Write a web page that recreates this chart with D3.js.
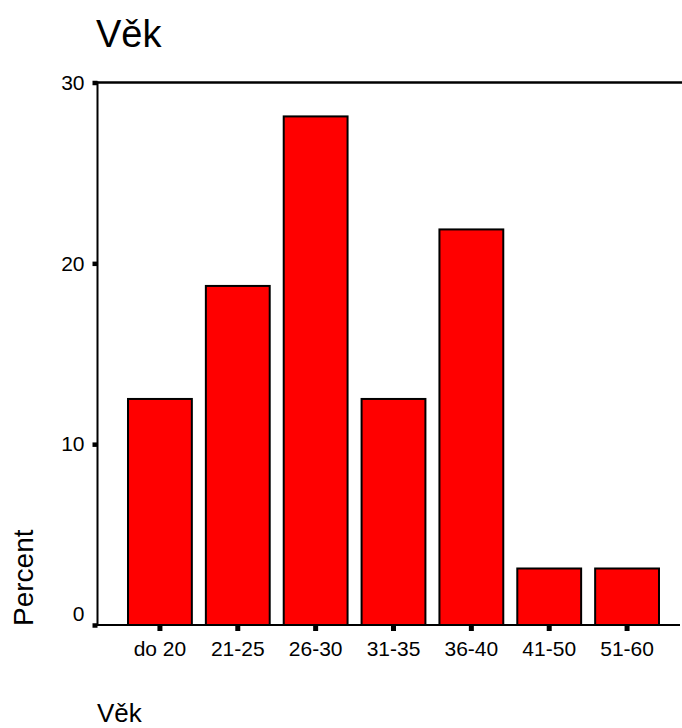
<!DOCTYPE html>
<html><head><meta charset="utf-8">
<script src="https://cdn.jsdelivr.net/npm/d3@7"></script>
<style>body{margin:0;background:#fff}svg{display:block}</style>
</head><body>
<script>
const categories = ["do 20","21-25","26-30","31-35","36-40","41-50","51-60"];
const values = [12.5, 18.75, 28.125, 12.5, 21.875, 3.125, 3.125];
const yTicks = [0, 10, 20, 30];
const title = "Věk";
const xTitle = "Věk";
const yTitle = "Percent";

const W = 682, H = 728;
const svg = d3.select("body").append("svg").attr("width", W).attr("height", H);
const font = "Arial, 'Liberation Sans', sans-serif";

const x = d3.scaleBand().domain(categories).range([121, 666]).paddingInner(0.18).paddingOuter(0.09);
const y = d3.scaleLinear().domain([0, 30]).range([625, 82.5]);

// top frame line
svg.append("line").attr("x1", 97).attr("x2", 682).attr("y1", y(30)).attr("y2", y(30))
  .attr("stroke", "#000").attr("stroke-width", 2.5);

// bars
svg.selectAll("rect.bar").data(values).enter().append("rect").attr("class", "bar")
  .attr("x", (d, i) => x(categories[i]))
  .attr("width", x.bandwidth())
  .attr("y", d => y(d))
  .attr("height", d => y(0) - y(d))
  .attr("fill", "#ff0000").attr("stroke", "#000").attr("stroke-width", 2);

// y axis
const yAxis = svg.append("g").attr("transform", "translate(97.5,0)")
  .call(d3.axisLeft(y).tickValues(yTicks).tickSize(5).tickPadding(8).tickFormat(d3.format("d")));
yAxis.select(".domain").attr("d", `M0,${y(0)+1}V${y(30)-1}`).attr("stroke-width", 2);
yAxis.selectAll(".tick line").attr("stroke-width", 4.5);
yAxis.selectAll(".tick text").attr("font-family", font).attr("font-size", 21).attr("fill", "#000");
yAxis.selectAll(".tick").filter(d => d === 0).select("text").attr("dy", "-0.2em");

// x axis
const xAxis = svg.append("g").attr("transform", `translate(0,${y(0)})`)
  .call(d3.axisBottom(x).tickSize(6).tickPadding(10));
xAxis.select(".domain").attr("d", "M97,0H680").attr("stroke-width", 2);
xAxis.selectAll(".tick line").attr("stroke-width", 5);
xAxis.selectAll(".tick text").attr("font-family", font).attr("font-size", 21).attr("fill", "#000");

// titles
svg.append("text").attr("x", 96).attr("y", 47).attr("font-family", font).attr("font-size", 38).text(title);
svg.append("text").attr("x", 97).attr("y", 722).attr("font-family", font).attr("font-size", 26).text(xTitle);
svg.append("text").attr("transform", "translate(33,626) rotate(-90)").attr("font-family", font)
  .attr("font-size", 28).text(yTitle);
</script>
</body></html>
